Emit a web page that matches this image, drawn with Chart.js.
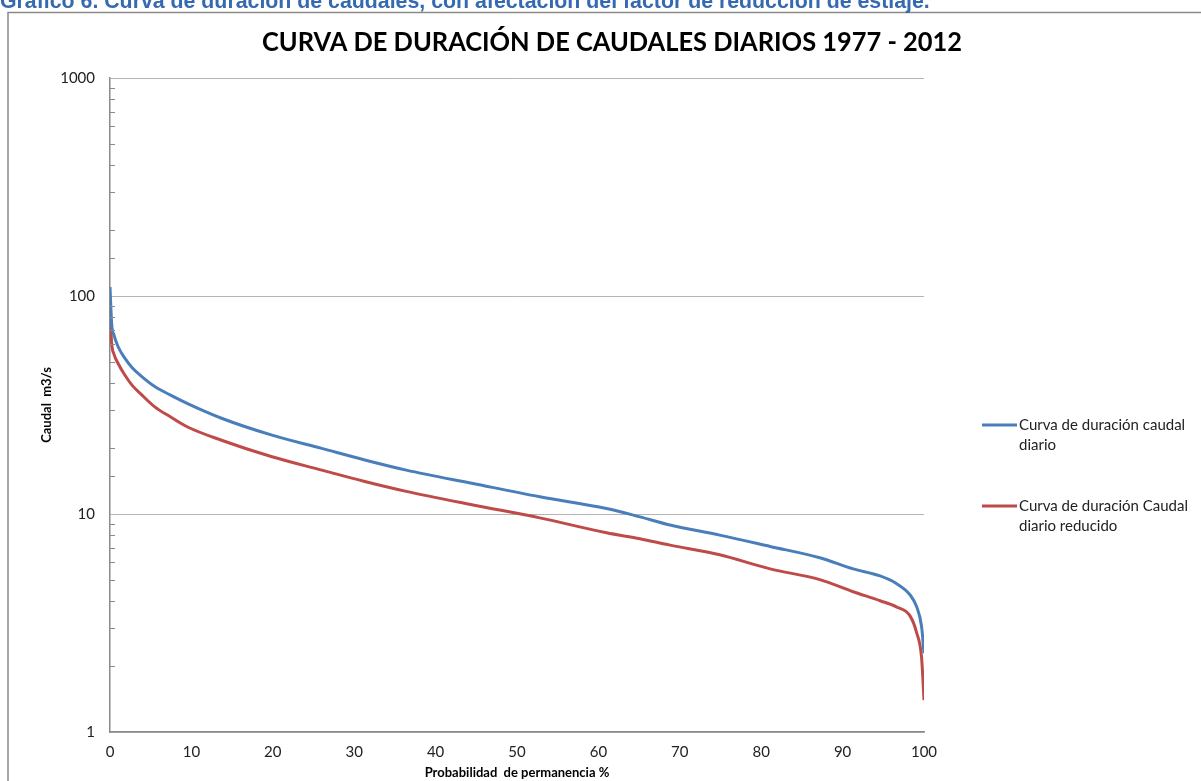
<!DOCTYPE html>
<html lang="es">
<head>
<meta charset="UTF-8">
<title>Curva de duración de caudales diarios</title>
<script src="https://cdn.jsdelivr.net/npm/chart.js"></script>
<style>
  html, body { margin: 0; padding: 0; background: #fff; overflow: hidden; }
  canvas { display: block; }
</style>
</head>
<body>
<canvas id="myChart" width="1201" height="781"></canvas>
<script>
// valores (probabilidad % / caudal m3/s)
const probabilidad = [0, 0.2, 0.5, 1.0, 1.8, 2.7, 3.8, 5.5, 7.5, 9.6, 13.7, 19.9, 26, 31.3, 36.4, 44.6,
                      52.8, 61, 65.1, 68.8, 74.9, 81.1, 87.2, 91.3, 94.6, 96.6, 98.3, 99.1, 99.7, 100];
const caudalDiario = [110, 75, 66, 58.5, 52, 47, 43, 38.4, 35, 32, 27.5, 23, 20, 17.7, 15.9, 13.8,
                      12.0, 10.6, 9.7, 8.9, 8.0, 7.1, 6.3, 5.6, 5.2, 4.8, 4.25, 3.75, 3.05, 2.3];
const caudalReducido = [86, 61, 54, 49, 43.5, 39, 35.5, 31, 27.8, 25, 21.8, 18.3, 15.9, 14.1, 12.7, 11.0,
                        9.6, 8.2, 7.7, 7.2, 6.5, 5.6, 5.0, 4.4, 4.0, 3.75, 3.4, 2.85, 2.2, 1.4];

const serieNombres = ['Curva de duración caudal diario', 'Curva de duración Caudal diario reducido'];
const leyendaLineas = [['Curva de duración caudal', 'diario'], ['Curva de duración Caudal', 'diario reducido']];
const colores = ['#4A7EBB', '#BE4B48'];

const encabezado = 'Gráfico 6. Curva de duración de caudales, con afectación del factor de reducción de estiaje.';
const titulo = 'CURVA DE DURACIÓN DE CAUDALES DIARIOS 1977 - 2012';

const isPow10 = v => Math.abs(Math.log10(v) - Math.round(Math.log10(v))) < 1e-9;

// fondo, marco, encabezado y titulo
const decorPlugin = {
    id: 'decor',
    beforeDraw(chart) {
        const c = chart.ctx;
        c.save();
        c.fillStyle = '#fff';
        c.fillRect(0, 0, chart.width, chart.height);

        // marco gris
        c.strokeStyle = '#8a8a8a';
        c.lineWidth = 1.5;
        c.beginPath();
        c.moveTo(8, chart.height + 2);
        c.lineTo(8, 12.5);
        c.lineTo(chart.width + 2, 12.5);
        c.stroke();

        // encabezado azul (cortado arriba)
        c.font = 'bold 100px "Liberation Sans", Arial, sans-serif';
        const w = c.measureText(encabezado).width;
        const size = 100 * 930 / w;
        c.font = 'bold ' + size.toFixed(2) + 'px "Liberation Sans", Arial, sans-serif';
        c.fillStyle = '#3569B1';
        c.textBaseline = 'alphabetic';
        c.textAlign = 'left';
        c.fillText(encabezado, 0, 8);

        // titulo
        c.font = 'bold 26px Lato, sans-serif';
        c.fillStyle = '#000';
        c.textAlign = 'center';
        c.textBaseline = 'middle';
        const tw = c.measureText(titulo).width;
        const sx = Math.min(1, 700 / tw);
        c.translate(612, 43);
        c.scale(sx, 1);
        c.fillText(titulo, 0, 0);
        c.restore();
    },
    afterDraw(chart) {
        const c = chart.ctx;
        const ys = chart.scales.y;
        const left = chart.chartArea.left;
        c.save();
        // marcas menores del eje log
        c.strokeStyle = '#8a8a8a';
        c.lineWidth = 1;
        ys.ticks.forEach(t => {
            if (isPow10(t.value)) return;
            const y = Math.round(ys.getPixelForValue(t.value)) + 0.5;
            c.beginPath();
            c.moveTo(left, y);
            c.lineTo(left + 5, y);
            c.stroke();
        });

        // leyenda
        const lx = 982, tops = [425, 506];
        c.font = '15px Lato, sans-serif';
        c.textBaseline = 'middle';
        c.textAlign = 'left';
        leyendaLineas.forEach((lines, i) => {
            c.strokeStyle = colores[i];
            c.lineWidth = 3;
            c.beginPath();
            c.moveTo(lx, tops[i]);
            c.lineTo(lx + 35, tops[i]);
            c.stroke();
            c.fillStyle = '#222';
            lines.forEach((s, j) => c.fillText(s, lx + 37, tops[i] + j * 20));
        });
        c.restore();
    }
};

const ctx = document.getElementById('myChart').getContext('2d');

new Chart(ctx, {
    type: 'line',
    data: {
        datasets: [
            {
                label: serieNombres[0],
                data: probabilidad.map((p, i) => ({ x: p, y: caudalDiario[i] })),
                borderColor: colores[0],
                borderWidth: 3,
                pointRadius: 0,
                cubicInterpolationMode: 'monotone'
            },
            {
                label: serieNombres[1],
                data: probabilidad.map((p, i) => ({ x: p, y: caudalReducido[i] })),
                borderColor: colores[1],
                borderWidth: 3,
                pointRadius: 0,
                cubicInterpolationMode: 'monotone'
            }
        ]
    },
    options: {
        responsive: false,
        animation: false,
        layout: { padding: { left: 0, right: 277, top: 78, bottom: 0 } },
        plugins: {
            legend: { display: false },
            title: { display: false },
            tooltip: { enabled: false }
        },
        scales: {
            x: {
                type: 'linear',
                min: 0,
                max: 100,
                afterFit: s => { s.height = 49; },
                grid: { display: false, drawTicks: false },
                border: { color: '#8a8a8a', width: 1.5 },
                ticks: {
                    stepSize: 10,
                    padding: 11,
                    color: '#222',
                    font: { family: 'Lato', size: 15 }
                },
                title: {
                    display: true,
                    text: 'Probabilidad  de permanencia %',
                    color: '#000',
                    padding: 0,
                    font: { family: 'Lato', size: 13, weight: 'bold' }
                }
            },
            y: {
                type: 'logarithmic',
                min: 1,
                max: 1000,
                afterFit: s => { s.width = 110; },
                grid: {
                    drawTicks: false,
                    color: c => (c.tick && isPow10(c.tick.value)) ? '#b4b4b4' : 'rgba(0,0,0,0)',
                    lineWidth: 1
                },
                border: { color: '#8a8a8a', width: 1.5 },
                ticks: {
                    autoSkip: false,
                    padding: 15,
                    color: '#222',
                    font: { family: 'Lato', size: 15 },
                    callback: v => isPow10(v) ? String(Math.round(v)) : ''
                },
                title: {
                    display: true,
                    text: 'Caudal  m3/s',
                    color: '#000',
                    padding: { top: 39, bottom: 0 },
                    font: { family: 'Lato', size: 13, weight: 'bold' }
                }
            }
        }
    },
    plugins: [decorPlugin]
});
</script>
</body>
</html>
